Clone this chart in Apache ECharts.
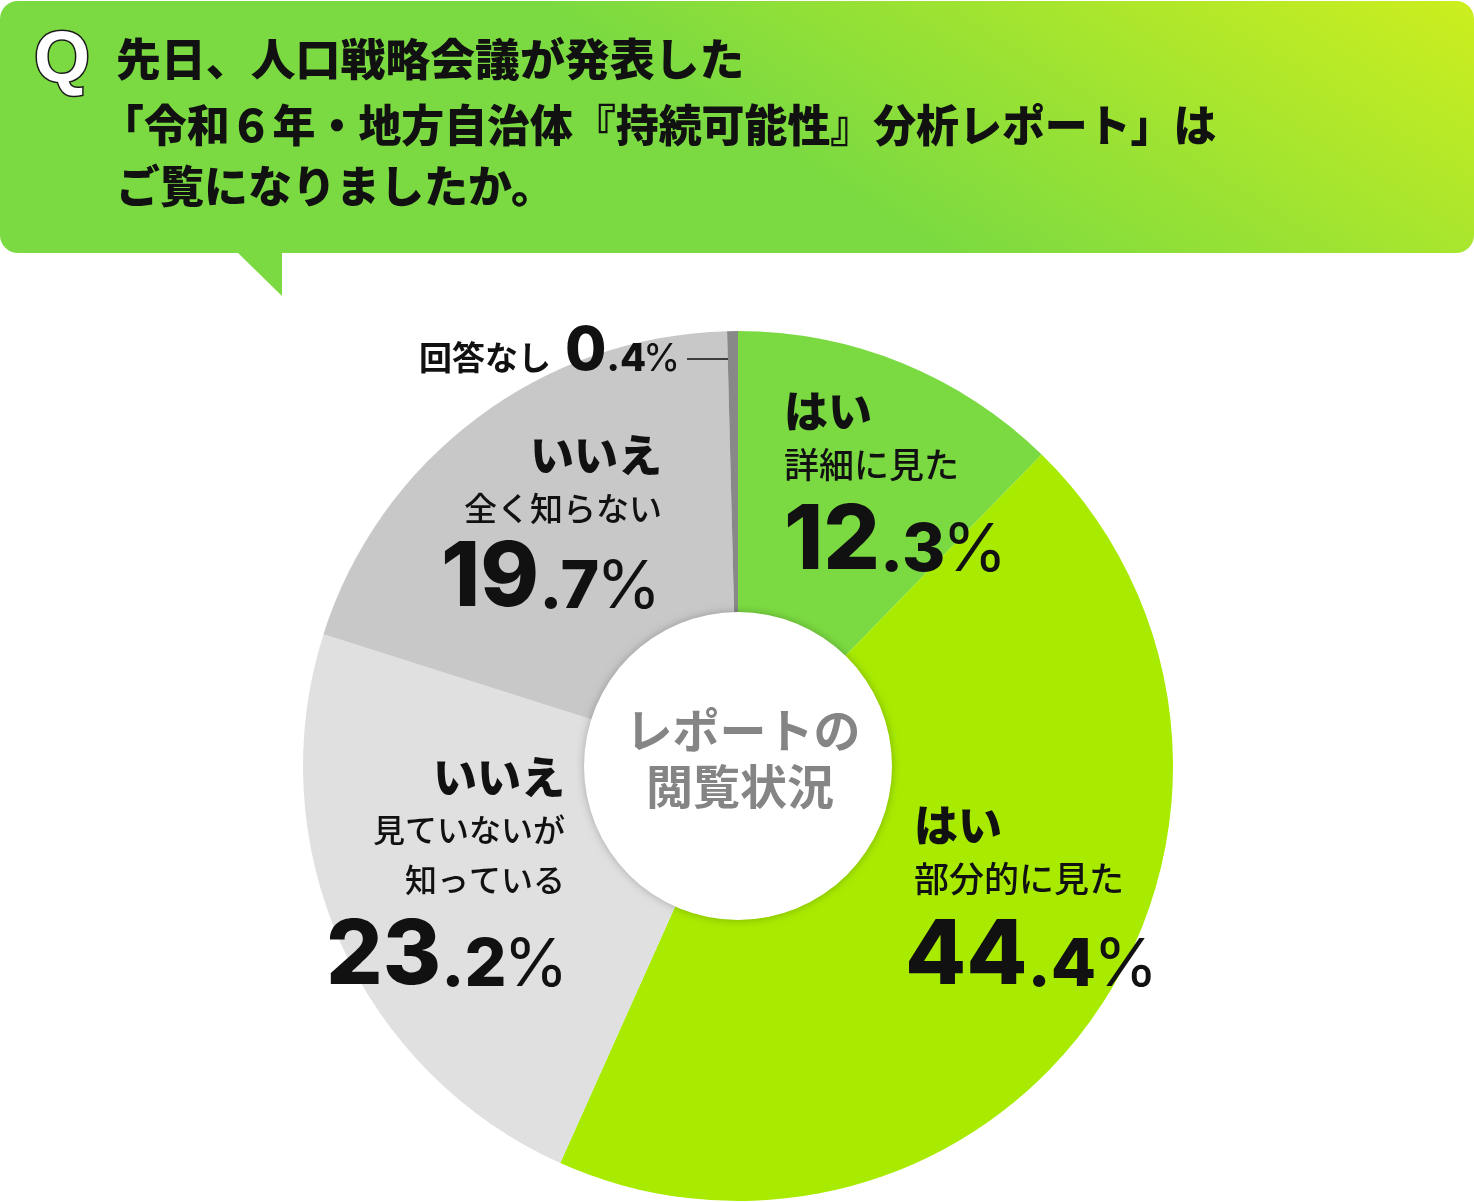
<!DOCTYPE html>
<html><head><meta charset="utf-8">
<script src="https://cdn.jsdelivr.net/npm/echarts@6/dist/echarts.min.js"></script>
<style>html,body{margin:0;padding:0;background:#fff}#c{width:1474px;height:1202px}</style>
</head><body><div id="c"></div>
<script>
// ---- data ----
const questionLines = ['先日、人口戦略会議が発表した', '「令和６年・地方自治体『持続可能性』分析レポート」は', 'ご覧になりましたか。'];
const categories = ['はい 詳細に見た', 'はい 部分的に見た', 'いいえ 見ていないが知っている', 'いいえ 全く知らない', '回答なし'];
const headLabels = ['はい', 'はい', 'いいえ', 'いいえ', '回答なし'];
const subLabels = [['詳細に見た'], ['部分的に見た'], ['見ていないが', '知っている'], ['全く知らない'], []];
const values = [12.3, 44.4, 23.2, 19.7, 0.4];
const centerLines = ['レポートの', '閲覧状況'];

// ---- style ----
const sliceColors = ['#7BDA41', '#A8EB00', '#DFE0DF', '#C8C8C8', '#888888'];
const CJK = '"Noto Sans CJK JP"';
const NUM = 'Inter';
const ctx = document.createElement('canvas').getContext('2d');
function measure(font, t) { ctx.font = font; ctx.textBaseline = 'alphabetic'; return ctx.measureText(t); }
function midOffset(m, size) {
  if (m.fontBoundingBoxAscent !== undefined) return (m.fontBoundingBoxAscent - m.fontBoundingBoxDescent) / 2;
  return 0.36 * size;
}
const els = [];
function txt(x, y, text, font, align, fill, extra) {
  els.push(Object.assign({
    type: 'text', x: x, y: y, z: 110,
    style: { text: text, font: font, fill: fill, align: align, textAlign: align, verticalAlign: 'middle', textVerticalAlign: 'middle' }
  }, extra || {}));
}
function cjk(x, center, text, font, align, fill, extra) {
  const m = measure(font, '国');
  const gc = (m.actualBoundingBoxAscent - m.actualBoundingBoxDescent) / 2;
  const mc = midOffset(m, 40);
  txt(x, center + gc - mc, text, font, align, fill, extra);
}
function numParts(v) { const p = v.toFixed(1).split('.'); return [p[0], '.' + p[1], '%']; }
function number(x, base, v, big, small) {
  const p = numParts(v);
  const specs = [[p[0], `800 ${big}px ${NUM}`, 0], [p[1], `800 ${small}px ${NUM}`, -3], [p[2], `400 ${small}px ${NUM}`, 0]];
  let cx = x;
  specs.forEach(([t, f, gap]) => {
    const m = measure(f, t);
    const y = base - midOffset(m, 60);
    txt(cx, y, t, f, 'left', '#111');
    cx += m.width + gap;
  });
}

// speech bubble
const grad = new echarts.graphic.LinearGradient(780, 150, 1042, -271, [
  { offset: 0, color: '#7BDA41' }, { offset: 1, color: '#CDEF1E' }
], true);
els.push({ type: 'rect', z: 1, shape: { x: 0, y: 1, width: 1474, height: 252, r: 18 }, style: { fill: grad } });
els.push({ type: 'polygon', z: 1, shape: { points: [[237, 252], [282, 252], [282, 296]] }, style: { fill: '#7BDA41' } });
// Q
els.push({ type: 'text', z: 110, x: 62, y: 62, style: { text: 'Q', font: '700 72px "Liberation Sans"', fill: '#fff', stroke: '#1a1a1a', lineWidth: 3, align: 'center', textAlign: 'center', verticalAlign: 'middle', textVerticalAlign: 'middle' } });
// question
const qFont = `900 44px ${CJK}`;
cjk(116, 62, questionLines[0], qFont, 'left', '#111', { scaleX: 1.02 });
cjk(101, 128, questionLines[1], qFont, 'left', '#111', { scaleX: 0.975 });
cjk(116, 189, questionLines[2], qFont, 'left', '#111');

// inner circle
els.push({ type: 'circle', z: 100, shape: { cx: 738, cy: 766, r: 154 }, style: { fill: '#fff', shadowBlur: 8, shadowColor: 'rgba(0,0,0,0.25)' } });
const cFont = `700 47px ${CJK}`;
cjk(743, 734, centerLines[0], cFont, 'center', '#858585');
cjk(740, 790, centerLines[1], cFont, 'center', '#858585');

// slice labels
const headFont = `900 44px ${CJK}`;
const layout = [
  { align: 'left', x: 784, head: 414, subs: [468], sub: 35, nx: 784, nb: 575 },
  { align: 'left', x: 914, head: 828, subs: [882], sub: 35, nx: 905, nb: 990 },
  { align: 'right', x: 565, head: 780, subs: [833, 883], sub: 32, nx: 326, nb: 990 },
  { align: 'right', x: 662, head: 458, subs: [511], sub: 33, nx: 441, nb: 612 }
];
layout.forEach((L, i) => {
  cjk(L.x, L.head, headLabels[i], headFont, L.align, '#111');
  subLabels[i].forEach((s, k) => cjk(L.x, L.subs[k], s, `500 ${L.sub}px ${CJK}`, L.align, '#111'));
  number(L.nx, L.nb, values[i], 89, 66);
});
// no answer
cjk(419, 360, headLabels[4], `700 33px ${CJK}`, 'left', '#111');
number(565, 374, values[4], 60, 38);
els.push({ type: 'line', z: 110, shape: { x1: 687, y1: 359, x2: 728, y2: 359 }, style: { stroke: '#111', lineWidth: 1.5 } });

const chart = echarts.init(document.getElementById('c'), null, { renderer: 'canvas' });
chart.setOption({
  animation: false,
  backgroundColor: '#fff',
  graphic: { elements: els },
  series: [{
    type: 'pie', center: [738, 766], radius: [0, 435], startAngle: 90, clockwise: true,
    silent: true, avoidLabelOverlap: false,
    label: { show: false }, labelLine: { show: false },
    itemStyle: { borderWidth: 0 },
    data: values.map((v, i) => ({ name: categories[i], value: v, itemStyle: { color: sliceColors[i] } }))
  }]
});
</script></body></html>
